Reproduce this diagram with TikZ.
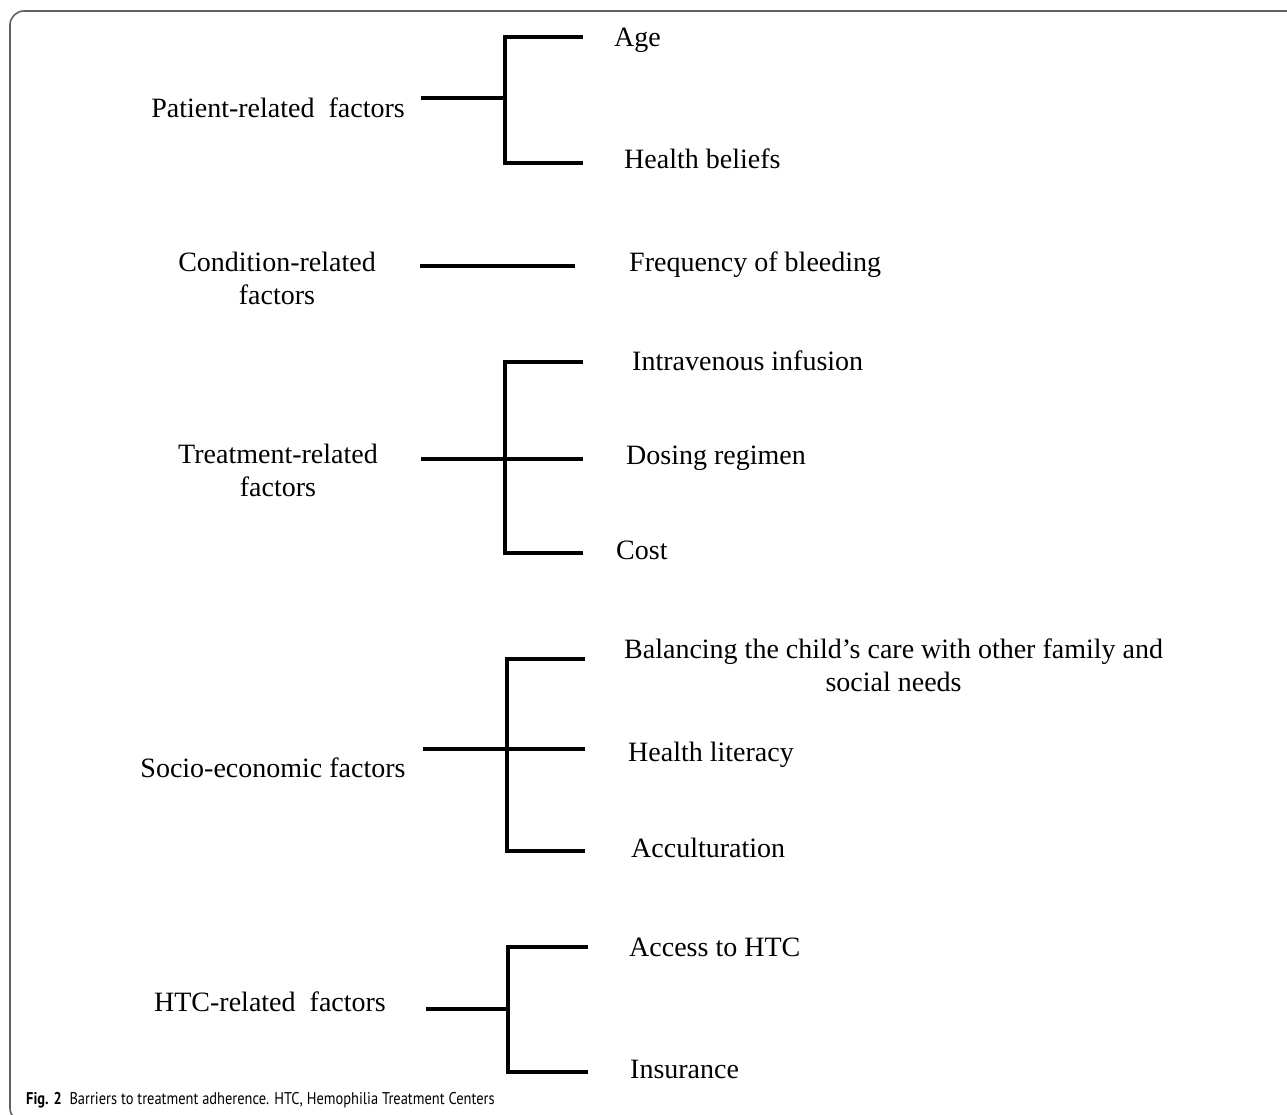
\documentclass[tikz,border=0pt]{standalone}
\usepackage{fontspec}
\usepackage{graphicx}
\setmainfont{Liberation Serif}
\newfontfamily\capfont{PT Sans}
\usetikzlibrary{positioning}

\tikzset{
  factor/.style={inner sep=0pt, align=center, font=\fontsize{28}{33}\selectfont},
  barrier/.style={inner sep=0pt, anchor=west, align=center, font=\fontsize{28}{33}\selectfont},
  branch/.style={line width=3.4pt, line cap=butt}
}

\begin{document}
\begin{tikzpicture}[x=1pt, y=-1pt]
  \useasboundingbox (0,0) rectangle (1287,1115);

  % Frame round the figure, cut off at the right and at the bottom
  \begin{scope}
    \clip (0,0) rectangle (1287,1115);
    \draw[black!62, line width=1.6pt, rounded corners=14pt] (10,11) rectangle (1310,1122);
  \end{scope}

  % Factors on the left
  \node[factor] (patient)   at (278,108) {Patient-related\ \ factors};
  \node[factor] (condition) at (277,278) {Condition-related\\factors};
  \node[factor] (treatment) at (278,470) {Treatment-related\\factors};
  \node[factor] (socio)     at (273,768) {Socio-economic factors};
  \node[factor] (htc)       at (270,1002) {HTC-related\ \ factors};

  % Barriers on the right
  \node[barrier] (age)      at (614,40)  {Age};
  \node[barrier] (beliefs)  at (624,159) {Health beliefs};
  \node[barrier] (bleeding) at (629,265) {Frequency of bleeding};
  \node[barrier] (infusion) at (632,361) {Intravenous infusion};
  \node[barrier] (dosing)   at (626,458) {Dosing regimen};
  \node[barrier] (cost)     at (616,550) {Cost};
  \node[barrier] (balance)  at (624,665) {Balancing the child's care with other family and\\social needs};
  \node[barrier] (literacy) at (628,755) {Health literacy};
  \node[barrier] (accult)   at (631,848) {Acculturation};
  \node[barrier] (access)   at (629,947) {Access to HTC};
  \node[barrier] (insur)    at (630,1069) {Insurance};

  % Bracket points
  \coordinate (patient-s) at (421,98);
  \coordinate (patient-j) at (505,98);
  \coordinate (age-e)     at (583,37);
  \coordinate (beliefs-e) at (583,163);

  \coordinate (condition-s) at (420,266);
  \coordinate (bleeding-e)  at (575,266);

  \coordinate (treatment-s) at (421,459);
  \coordinate (treatment-j) at (505,459);
  \coordinate (infusion-e)  at (583,362);
  \coordinate (dosing-e)    at (583,459);
  \coordinate (cost-e)      at (583,553);

  \coordinate (socio-s)    at (423,749);
  \coordinate (socio-j)    at (507,749);
  \coordinate (balance-e)  at (585,659);
  \coordinate (literacy-e) at (585,749);
  \coordinate (accult-e)   at (585,851);

  \coordinate (htc-s)    at (426,1009);
  \coordinate (htc-j)    at (508,1009);
  \coordinate (access-e) at (588,947);
  \coordinate (insur-e)  at (588,1072);

  % Brackets
  \draw[branch] (patient-s) -- (patient-j);
  \draw[branch] (age-e) -- (age-e -| patient-j) -- (beliefs-e -| patient-j) -- (beliefs-e);

  \draw[branch] (condition-s) -- (bleeding-e);

  \draw[branch] (treatment-s) -- (treatment-j);
  \draw[branch] (infusion-e) -- (infusion-e -| treatment-j) -- (cost-e -| treatment-j) -- (cost-e);
  \draw[branch] (treatment-j) -- (dosing-e);

  \draw[branch] (socio-s) -- (socio-j);
  \draw[branch] (balance-e) -- (balance-e -| socio-j) -- (accult-e -| socio-j) -- (accult-e);
  \draw[branch] (socio-j) -- (literacy-e);

  \draw[branch] (htc-s) -- (htc-j);
  \draw[branch] (access-e) -- (access-e -| htc-j) -- (insur-e -| htc-j) -- (insur-e);

  % Caption
  \node[anchor=base west, inner sep=0pt, font=\capfont\fontsize{17}{20}\selectfont] (caption) at (26,1104)
    {\scalebox{0.85}[1]{\textbf{Fig. 2}\ \ Barriers to treatment adherence. HTC, Hemophilia Treatment Centers}};
\end{tikzpicture}
\end{document}
